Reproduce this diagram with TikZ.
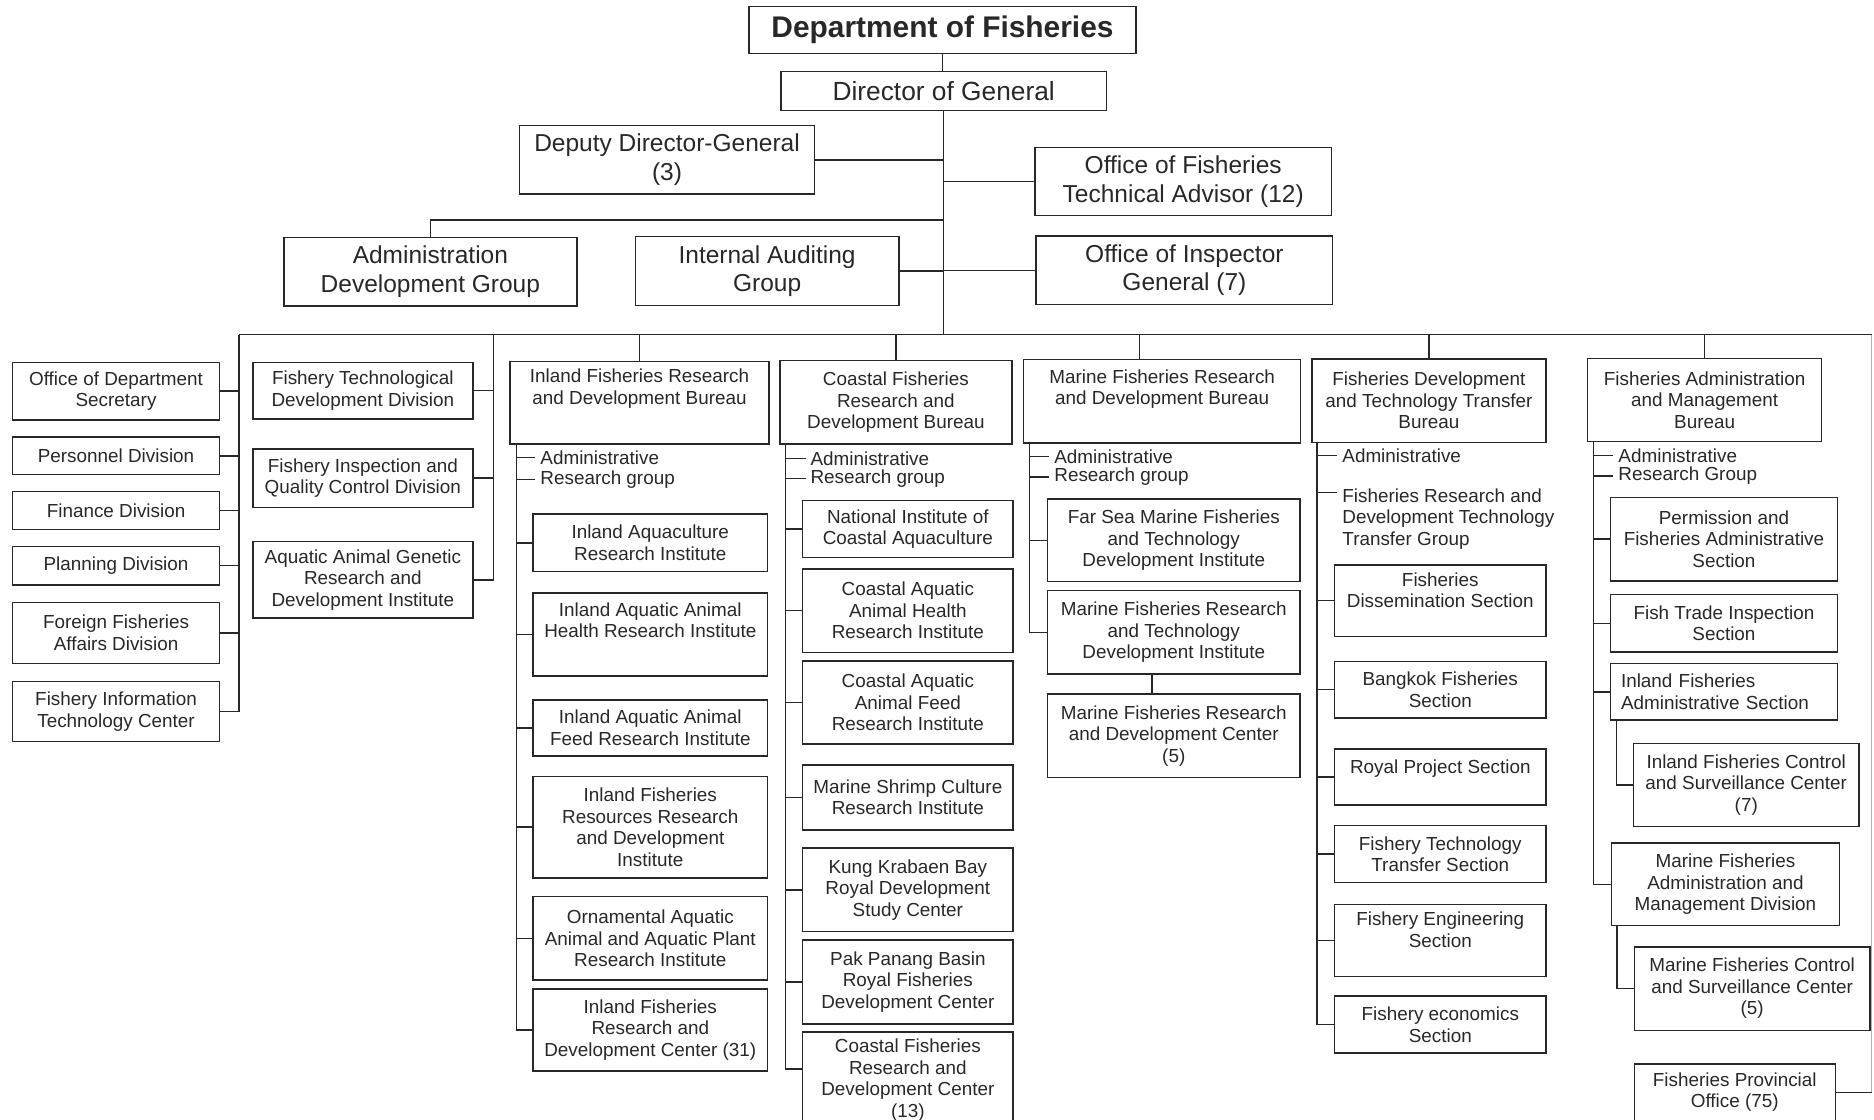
\documentclass[tikz,border=0pt]{standalone}
\usepackage{fontspec}
\setmainfont{Liberation Sans}
\usetikzlibrary{calc}
\definecolor{ink}{RGB}{40,40,40}
\tikzstyle{bx}=[draw=ink, line width=1.2pt, anchor=north west, align=center,
  inner sep=1pt, text=ink, font=\fontsize{15.8}{18}\selectfont]
\tikzstyle{bxl}=[bx, align=left, text width=172pt, inner xsep=9pt]
\tikzstyle{headbox}=[bx, font=\fontsize{20.5}{24}\selectfont]
\tikzstyle{sublabel}=[anchor=west, inner sep=4pt, text=ink,
  font=\fontsize{15.8}{18}\selectfont]
\tikzstyle{wire}=[draw=ink, line width=1.2pt]

\begin{document}
\begin{tikzpicture}[x=1pt, y=-1pt]
            \useasboundingbox (0,0) rectangle (1568,937);
            % top of the chart
            \node [style=headbox, font=\bfseries\fontsize{25}{28}\selectfont, minimum width=324pt, minimum height=39pt] (dof) at (626,5) {Department of Fisheries};
            \node [style=headbox, font=\fontsize{22}{26}\selectfont, minimum width=272pt, minimum height=33pt] (dir) at (653,59) {Director of General};
            \node [style=headbox, minimum width=247pt, minimum height=57pt] (ddg) at (434,104.6) {Deputy Director-General\\(3)};
            \node [style=headbox, minimum width=248pt, minimum height=57pt] (ota) at (865.4,122.7) {Office of Fisheries\\Technical Advisor (12)};
            \node [style=headbox, minimum width=245pt, minimum height=57.5pt] (adg) at (237,198) {Administration\\Development Group};
            \node [style=headbox, minimum width=220.5pt, minimum height=57.5pt] (iag) at (531,197.5) {Internal Auditing\\Group};
            \node [style=headbox, minimum width=248pt, minimum height=57.7pt] (oig) at (866.4,196.7) {Office of Inspector\\General (7)};
            \coordinate (busL) at (200,280);
            \coordinate (busR) at (1566,280);
            \coordinate (admY) at (789,184);
            \coordinate (colB) at (413,280);
            % left columns
            \node [style=bx, minimum width=173pt, minimum height=48pt] (ods) at (10,302.7) {Office of Department\\Secretary};
            \node [style=bx, minimum width=173pt, minimum height=31.6pt] (pd) at (10,365) {Personnel Division};
            \node [style=bx, minimum width=173pt, minimum height=32pt] (fnd) at (10,410.6) {Finance Division};
            \node [style=bx, minimum width=173pt, minimum height=32.2pt] (pln) at (10,456.6) {Planning Division};
            \node [style=bx, minimum width=173pt, minimum height=51pt] (ffa) at (10,503.5) {Foreign Fisheries\\Affairs Division};
            \node [style=bx, minimum width=173pt, minimum height=50.2pt] (fit) at (10,569.6) {Fishery Information\\Technology Center};
            \node [style=bx, minimum width=184pt, minimum height=47.4pt] (ftd) at (211,302.6) {Fishery Technological\\Development Division};
            \node [style=bx, minimum width=184pt, minimum height=49pt] (fiq) at (211,375) {Fishery Inspection and\\Quality Control Division};
            \node [style=bx, minimum width=184pt, minimum height=63.8pt] (aag) at (211,452.7) {Aquatic Animal Genetic\\Research and\\Development Institute};
            % inland fisheries
            \node [style=bx, minimum width=217pt, minimum height=69.2pt] (ifb) at (426,301.8) {Inland Fisheries Research\\and Development Bureau\\[9pt]~};
            \node [style=sublabel] (ifa) at (448,383) {Administrative};
            \node [style=sublabel] (ifr) at (448,401) {Research group};
            \node [style=bx, minimum width=196pt, minimum height=48.2pt] (ic1) at (445.5,429.5) {Inland Aquaculture\\Research Institute};
            \node [style=bx, minimum width=196pt, minimum height=69.5pt] (ic2) at (445.5,495.5) {Inland Aquatic Animal\\Health Research Institute\\[6pt]~};
            \node [style=bx, minimum width=196pt, minimum height=47pt] (ic3) at (445.5,585) {Inland Aquatic Animal\\Feed Research Institute};
            \node [style=bx, minimum width=196pt, minimum height=85pt] (ic4) at (445.5,649) {Inland Fisheries\\Resources Research\\and Development\\Institute};
            \node [style=bx, minimum width=196pt, minimum height=70pt] (ic5) at (445.5,749.5) {Ornamental Aquatic\\Animal and Aquatic Plant\\Research Institute};
            \node [style=bx, minimum width=196pt, minimum height=68.5pt] (ic6) at (445.5,827) {Inland Fisheries\\Research and\\Development Center (31)};
            \coordinate (ifx) at (432,371);
            % coastal fisheries
            \node [style=bx, minimum width=194pt, minimum height=70pt] (cfb) at (652,301) {Coastal Fisheries\\Research and\\Development Bureau};
            \node [style=sublabel] (cfa) at (674,383.5) {Administrative};
            \node [style=sublabel] (cfr) at (674,400.5) {Research group};
            \node [style=bx, minimum width=176pt, minimum height=47.4pt] (cc1) at (671,418.4) {National Institute of\\Coastal Aquaculture};
            \node [style=bx, minimum width=176pt, minimum height=69.8pt] (cc2) at (671,475.5) {Coastal Aquatic\\Animal Health\\Research Institute};
            \node [style=bx, minimum width=176pt, minimum height=69.7pt] (cc3) at (671,552.3) {Coastal Aquatic\\Animal Feed\\Research Institute};
            \node [style=bx, minimum width=176pt, minimum height=54.7pt] (cc4) at (671,639.3) {Marine Shrimp Culture\\Research Institute};
            \node [style=bx, minimum width=176pt, minimum height=70pt] (cc5) at (671,709) {Kung Krabaen Bay\\Royal Development\\Study Center};
            \node [style=bx, minimum width=176pt, minimum height=70pt] (cc6) at (671,786) {Pak Panang Basin\\Royal Fisheries\\Development Center};
            \node [style=bx, minimum width=176pt, minimum height=80pt] (cc7) at (671,863) {Coastal Fisheries\\Research and\\Development Center\\(13)};
            \coordinate (cfx) at (657,371);
            % marine fisheries
            \node [style=bx, minimum width=231.6pt, minimum height=69.6pt] (mfb) at (856,300.4) {Marine Fisheries Research\\and Development Bureau\\[6pt]~};
            \node [style=sublabel] (mfa) at (878,382) {Administrative};
            \node [style=sublabel] (mfr) at (878,399) {Research group};
            \node [style=bx, minimum width=211pt, minimum height=69.2pt] (mc1) at (876,416.8) {Far Sea Marine Fisheries\\and Technology\\Development Institute};
            \node [style=bx, minimum width=211pt, minimum height=69.8pt] (mc2) at (876,493.7) {Marine Fisheries Research\\and Technology\\Development Institute};
            \node [style=bx, minimum width=211pt, minimum height=70pt] (mc3) at (876,580) {Marine Fisheries Research\\and Development Center\\(5)};
            \coordinate (mfx) at (861.6,370);
            \coordinate (mfTop) at (953.6,280);
            \coordinate (mcx) at (964,563.5);
            % fisheries development
            \node [style=bx, minimum width=196pt, minimum height=69.9pt] (fdb) at (1097,299.7) {Fisheries Development\\and Technology Transfer\\Bureau};
            \node [style=sublabel] (fda) at (1119,381) {Administrative};
            \node [style=sublabel, anchor=north west, align=left] (fdg) at (1119,404.6) {Fisheries Research and\\Development Technology\\Transfer Group};
            \node [style=bx, minimum width=177pt, minimum height=60pt] (fc1) at (1116,472) {Fisheries\\Dissemination Section\\~};
            \node [style=bx, minimum width=177pt, minimum height=47pt] (fc2) at (1116,553) {Bangkok Fisheries\\Section};
            \node [style=bx, minimum width=177pt, minimum height=47pt] (fc3) at (1116,626) {Royal Project Section\\~};
            \node [style=bx, minimum width=177pt, minimum height=48pt] (fc4) at (1116,690) {Fishery Technology\\Transfer Section};
            \node [style=bx, minimum width=177pt, minimum height=60.5pt] (fc5) at (1116,756) {Fishery Engineering\\Section\\~};
            \node [style=bx, minimum width=177pt, minimum height=48pt] (fc6) at (1116,832.6) {Fishery economics\\Section};
            \coordinate (fdx) at (1102,369.6);
            % fisheries administration
            \node [style=bx, minimum width=195.8pt, minimum height=69.5pt] (fab) at (1327.8,299.3) {Fisheries Administration\\and Management\\Bureau};
            \node [style=sublabel] (faa) at (1350,381.3) {Administrative};
            \node [style=sublabel] (far) at (1350,398.3) {Research Group};
            \node [style=bx, minimum width=190.3pt, minimum height=69.8pt] (gc1) at (1346.7,415.6) {Permission and\\Fisheries Administrative\\Section};
            \node [style=bx, minimum width=190.3pt, minimum height=47.8pt] (gc2) at (1346.7,497) {Fish Trade Inspection\\Section};
            \node [style=bxl, minimum height=47.5pt] (gc3) at (1346.7,554.5) {Inland Fisheries\\Administrative Section};
            \node [style=bx, minimum width=189pt, minimum height=69.5pt] (gc4) at (1366,621.5) {Inland Fisheries Control\\and Surveillance Center\\(7)};
            \node [style=bx, minimum width=190.4pt, minimum height=69.1pt] (gc5) at (1347.9,704.9) {Marine Fisheries\\Administration and\\Management Division};
            \node [style=bx, minimum width=197.2pt, minimum height=69.8pt] (gc6) at (1366.8,791.6) {Marine Fisheries Control\\and Surveillance Center\\(5)};
            \node [style=bx, minimum width=168.2pt, minimum height=47pt] (gc7) at (1366.8,889.8) {Fisheries Provincial\\Office (75)};
            \coordinate (fax) at (1333.3,368.8);
            \coordinate (ifcx) at (1352.3,602);
            \coordinate (mfcx) at (1353,774);
            % connectors
            \draw [style=wire] (dof.south) -- (dof.south |- dir.north);
            \draw [style=wire] (dir.south) -- (dir.south |- busL);
            \draw [style=wire] (ddg.east) -- (ddg.east -| dir.south);
            \draw [style=wire] (ota.west) -- (ota.west -| dir.south);
            \draw [style=wire] (adg.north) |- (admY);
            \draw [style=wire] (iag.east) -- (iag.east -| dir.south);
            \draw [style=wire] (oig.west) -- (oig.west -| dir.south);
            \draw [style=wire] (busL) -- (busR);
            \draw [style=wire] (busL) |- (ods.east);
            \draw [style=wire] (busL) |- (pd.east);
            \draw [style=wire] (busL) |- (fnd.east);
            \draw [style=wire] (busL) |- (pln.east);
            \draw [style=wire] (busL) |- (ffa.east);
            \draw [style=wire] (busL) |- (fit.east);
            \draw [style=wire] (colB) |- (ftd.east);
            \draw [style=wire] (colB) |- (fiq.east);
            \draw [style=wire] (colB) |- (aag.east);
            \draw [style=wire] (ifb.north) -- (ifb.north |- busL);
            \draw [style=wire] (cfb.north) -- (cfb.north |- busL);
            \draw [style=wire] (mfTop) -- (mfTop |- mfb.north);
            \draw [style=wire] (fdb.north) -- (fdb.north |- busL);
            \draw [style=wire] (fab.north) -- (fab.north |- busL);
            \draw [style=wire] (ifx) |- (ifa.west);
            \draw [style=wire] (ifx) |- (ifr.west);
            \draw [style=wire] (ifx) |- (ic1.west);
            \draw [style=wire] (ifx) |- (ic2.west);
            \draw [style=wire] (ifx) |- (ic3.west);
            \draw [style=wire] (ifx) |- (ic4.west);
            \draw [style=wire] (ifx) |- (ic5.west);
            \draw [style=wire] (ifx) |- (ic6.west);
            \draw [style=wire] (cfx) |- (cfa.west);
            \draw [style=wire] (cfx) |- (cfr.west);
            \draw [style=wire] (cfx) |- (cc1.west);
            \draw [style=wire] (cfx) |- (cc2.west);
            \draw [style=wire] (cfx) |- (cc3.west);
            \draw [style=wire] (cfx) |- (cc4.west);
            \draw [style=wire] (cfx) |- (cc5.west);
            \draw [style=wire] (cfx) |- (cc6.west);
            \draw [style=wire] (cfx) |- ([yshift=9pt]cc7.west);
            \draw [style=wire] (mfx) |- (mfa.west);
            \draw [style=wire] (mfx) |- (mfr.west);
            \draw [style=wire] (mfx) |- (mc1.west);
            \draw [style=wire] (mfx) |- (mc2.west);
            \draw [style=wire] (mcx) -- (mcx |- mc3.north);
            \draw [style=wire] (fdx) |- (fda.west);
            \draw [style=wire] (fdx) |- ([yshift=-7.5pt]fdg.north west);
            \draw [style=wire] (fdx) |- (fc1.west);
            \draw [style=wire] (fdx) |- (fc2.west);
            \draw [style=wire] (fdx) |- (fc3.west);
            \draw [style=wire] (fdx) |- (fc4.west);
            \draw [style=wire] (fdx) |- (fc5.west);
            \draw [style=wire] (fdx) |- (fc6.west);
            \draw [style=wire] (fax) |- (faa.west);
            \draw [style=wire] (fax) |- (far.west);
            \draw [style=wire] (fax) |- (gc1.west);
            \draw [style=wire] (fax) |- (gc2.west);
            \draw [style=wire] (fax) |- (gc3.west);
            \draw [style=wire] (fax) |- (gc5.west);
            \draw [style=wire] (ifcx) |- (gc4.west);
            \draw [style=wire] (mfcx) |- (gc6.west);
            \draw [style=wire] (gc7.east) -- (gc7.east -| busR);
            \draw [style=wire, draw=black!30, line width=0.8pt] (busR) -- (busR |- gc7.east);
    \end{tikzpicture}
\end{document}
